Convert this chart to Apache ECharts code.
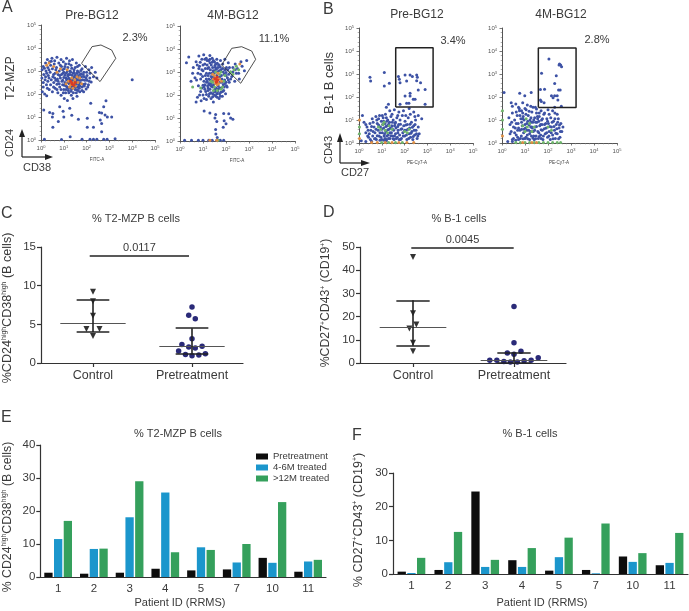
<!DOCTYPE html>
<html><head><meta charset="utf-8">
<style>html,body{margin:0;padding:0;background:#fff}#c{width:689px;height:611px}</style>
<script src="https://cdn.jsdelivr.net/npm/echarts@6/dist/echarts.min.js"></script>
</head><body><div id="c"></div>
<script>
// Flow panels: values are decades (log10).
const a1Blue=[[.05,3.05],[.1,3.2],[.12,2.85],[.2,3.35],[.22,3.0],[.28,3.5],[.3,3.15],[.32,2.8],[.38,3.4],[.4,2.95],[.42,3.25],[.48,3.55],[.5,3.1],[.52,2.75],[.58,3.3],[.6,3.45],[.62,2.9],[.68,3.15],[.7,3.6],[.72,2.65],[.78,3.35],[.8,3.0],[.82,2.8],[.88,3.5],[.9,3.2],[.92,2.55],[.98,3.4],[1,2.95],[1.02,3.1],[1.08,3.3],[1.1,2.7],[1.12,3.55],[1.18,3.15],[1.2,2.85],[1.25,3.45],[1.28,3.0],[1.32,3.25],[1.38,3.5],[1.42,2.9],[1.5,3.15],[1.55,3.35],[1.6,3.0],[1.68,3.25],[1.72,2.85],[1.8,3.1],[1.88,2.95],[1.95,3.2],[2.02,2.8],[2.1,3.05],[2.15,2.9],[2.22,3.15],[2.3,2.75],[2.38,2.95],[2.45,2.7],[.04,2.7],[.1,2.5],[.18,2.62],[.24,2.4],[.3,2.55],[.36,2.2],[.42,2.4],[.5,2.1],[.56,2.5],[.62,2.25],[.7,2.42],[.74,2.05],[.82,2.3],[.88,1.95],[.06,2.1],[.16,2.0],[.25,1.92],[.95,2.4],[1,2.2],[1.05,2.5],[1.08,2.05],[1.12,2.62],[1.15,2.3],[1.18,2.78],[1.2,2.15],[1.24,2.45],[1.28,2.65],[1.3,2.25],[1.33,1.95],[1.36,2.82],[1.4,2.4],[1.42,2.05],[1.45,2.58],[1.48,2.75],[1.5,2.2],[1.53,2.42],[1.56,2.9],[1.58,1.9],[1.6,2.6],[1.63,2.3],[1.66,2.72],[1.7,2.1],[1.72,2.48],[1.76,2.88],[1.8,2.3],[1.83,2.62],[1.87,2.1],[1.9,2.75],[1.94,2.45],[1.98,2.22],[2.02,2.6],[2.08,2.4],[2.14,2.7],[2.2,2.52],[1.0,2.72],[.96,2.9],[1.1,2.9],[1.3,2.95],[1.44,2.95],[1.62,2.8],[.95,2.6],[1.02,1.8],[1.16,1.72],[1.4,1.8],[1.26,2.85],[1.35,2.55],[1.55,2.5],[1.65,2.4],[1.45,2.3],[1.35,2.35],[1.75,2.6],[.12,1.3],[.38,1.2],[.52,1.15],[.5,1.0],[.82,1.45],[.97,1.25],[1.26,1.38],[.76,.8],[.52,.55],[1.0,1.0],[1.35,1.08],[1.64,.9],[2.03,.95],[2.18,1.6],[2.56,1.2],[2.66,1.17],[2.81,1.09],[2.91,1.0],[3.1,1.0],[2.75,1.45],[2.85,1.71],[2.6,.87],[2.66,.72],[2.03,.55],[2.3,.55],[2.66,.36],[4.0,2.62],[.15,.03],[1.28,.14],[1.8,.03],[2.15,.03],[2.3,.03],[2.45,.03],[2.75,.03],[2.9,.03],[3.25,.05],[.9,.02]];
const a1Fill=[[.15,3.12],[.25,2.9],[.35,3.05],[.45,3.42],[.55,2.85],[.65,3.05],[.75,2.85],[.85,3.25],[.95,3.05],[1.05,3.2],[1.15,2.98],[1.22,3.32],[1.35,3.12],[1.45,3.05],[1.6,3.2],[1.75,3.02],[1.85,2.85],[2.0,2.95],[.45,2.62],[.6,2.7],[.75,2.55],[.85,2.7],[.9,2.85],[.65,2.6],[.8,2.45],[.88,2.2],[.98,2.05],[1.1,2.2],[1.22,2.05],[1.32,2.12],[1.55,2.05],[1.68,2.25],[1.8,2.15],[1.9,2.35],[2.05,2.3],[2.12,2.55],[1.92,2.6],[1.84,2.42],[1.7,2.35],[1.58,2.18],[1.47,2.45],[1.38,2.62],[1.26,2.55],[1.18,2.5],[1.1,2.35],[1.02,2.38],[1.42,2.72],[1.55,2.65],[1.68,2.6],[1.22,2.68],[1.05,2.82],[1.15,2.62],[1.5,2.82],[1.65,2.95],[1.35,2.22],[1.2,2.25],[1.52,2.3],[1.62,2.15],[1.78,2.75],[1.98,2.7],[.2,2.75],[.35,2.7],[.28,2.25],[.55,2.3],[.7,2.2],[.1,2.3]];
const a1Orange=[[.25,3.25],[.55,3.2],[.85,3.1],[1.15,3.05],[.35,3.35],[.7,2.95],[1.2,2.55],[1.3,2.4],[1.35,2.7],[1.42,2.5],[1.48,2.62],[1.52,2.35],[1.58,2.75],[1.62,2.5],[1.25,2.3],[1.4,2.25],[1.7,2.7],[1.1,2.45],[1.78,2.45]];
const a1Red=[[1.3,2.55],[1.38,2.42],[1.44,2.38],[1.35,2.48],[1.5,2.5]];
const a2Blue=[[.28,3.4],[.38,3.65],[.48,2.6],[.58,3.2],[.7,3.45],[.78,2.95],[.82,3.7],[.85,3.25],[.9,2.7],[.95,3.55],[1,3.05],[1.03,3.75],[1.05,2.35],[1.08,3.35],[1.1,2.85],[1.14,3.6],[1.16,2.55],[1.2,3.15],[1.22,2.2],[1.25,3.5],[1.28,2.95],[1.3,3.72],[1.32,2.65],[1.36,3.3],[1.38,2.4],[1.4,3.6],[1.42,2.05],[1.44,3.05],[1.46,2.8],[1.5,3.45],[1.52,2.25],[1.54,3.2],[1.56,1.95],[1.6,3.55],[1.62,3.0],[1.64,2.15],[1.68,3.3],[1.7,1.85],[1.72,2.05],[1.76,3.5],[1.78,3.1],[1.8,2.3],[1.84,1.95],[1.86,3.35],[1.9,2.2],[1.92,2.9],[1.95,3.55],[1.98,2.05],[2.02,3.2],[2.05,2.35],[2.1,3.4],[2.14,2.55],[2.2,3.0],[2.25,2.8],[2.3,3.2],[2.38,2.6],[2.45,2.95],[2.5,3.15],[2.58,2.7],[2.65,3.45],[2.7,3.25],[2.8,3.05],[2.9,3.5],[1.3,3.4],[1.18,3.3],[.95,3.1],[1.04,2.6],[1.12,2.15],[1.28,2.45],[1.34,2.1],[1.46,2.45],[1.5,2.0],[1.58,2.3],[1.6,2.05],[1.66,2.4],[1.74,2.55],[1.82,2.7],[1.88,2.45],[1.94,2.65],[2.0,2.55],[2.06,2.75],[2.12,2.9],[1.42,3.2],[1.55,3.35],[1.7,3.3],[1.85,3.15],[1.48,2.95],[1.6,2.85],[1.35,2.8],[1.25,2.7],[1.2,2.4],[.55,2.95],[.65,2.75],[.95,2.3],[.9,2.15],[.85,2.0],[.76,1.9],[.7,1.7],[.92,1.75],[1.05,1.85],[1.15,1.8],[1.25,1.95],[1.35,1.85],[1.45,1.7],[1.05,1.3],[1.3,1.22],[1.55,1.15],[1.9,1.2],[2.12,1.18],[1.52,1.0],[1.6,.85],[1.92,.88],[2.2,1.0],[2.3,.95],[2.0,.75],[1.88,.6],[1.56,.3],[1.55,.5],[1.62,.15],[.2,.03],[.5,.03],[.8,.03],[1.0,.03],[1.25,.03],[1.4,.03],[1.6,.03],[1.75,.03],[1.9,.03]];
const a2Fill=[[1.0,3.3],[1.1,3.15],[1.15,2.95],[1.22,2.85],[1.25,3.2],[1.32,3.1],[1.38,2.95],[1.4,3.42],[1.45,2.62],[1.5,3.05],[1.52,3.28],[1.58,3.12],[1.65,3.2],[1.7,3.05],[1.75,3.22],[1.8,2.85],[1.88,3.0],[1.95,3.1],[2.0,2.98],[2.08,3.1],[2.15,3.2],[2.4,3.35],[1.08,2.45],[1.14,2.7],[1.18,2.6],[1.3,2.25],[1.36,2.38],[1.42,2.35],[1.48,2.15],[1.54,2.15],[1.66,2.25],[1.72,2.32],[1.78,2.12],[1.85,2.15],[1.92,2.35],[1.95,2.5],[2.02,2.4],[1.75,1.95],[1.62,1.9],[1.42,1.92],[1.28,2.05],[1.15,2.02],[1.0,2.0],[1.0,2.42],[1.08,2.25],[.9,2.9],[.82,3.15],[.75,3.3],[.88,3.42],[1.18,3.5],[1.08,3.55],[.98,2.8],[.72,2.65],[.8,2.4],[1.26,2.5],[1.35,2.5],[1.22,2.3],[1.4,2.75],[1.72,2.78],[1.82,2.55],[2.0,2.85],[2.1,2.65],[2.2,2.7],[2.3,3.0],[2.4,3.1],[2.55,2.95],[1.62,3.38],[1.45,3.5],[1.3,3.55]];
const a2Green=[[1.42,2.55],[1.5,2.35],[1.62,2.2],[1.85,2.35],[1.9,2.6],[1.95,2.85],[1.35,2.6],[1.55,3.0],[1.78,3.0],[2.2,3.0],[2.35,3.1],[2.45,3.25],[2.55,3.1],[2.3,2.9],[.9,2.3],[.55,2.35],[1.65,.03],[1.45,2.2],[1.78,2.25],[1.72,2.9]];
const a2Orange=[[1.45,2.7],[1.5,2.85],[1.55,2.5],[1.6,2.75],[1.68,2.5],[1.72,2.7],[1.52,2.62],[1.65,2.95],[1.42,2.9],[1.8,2.6],[2.6,3.35],[1.62,2.45],[1.6,.03],[1.3,.03]];
const a2Red=[[1.55,2.7],[1.6,2.6],[1.65,2.65],[1.58,2.55],[1.62,2.78],[1.52,2.72]];
const b1Blue=[[.48,2.86],[.51,2.7],[1.11,3.06],[1.33,2.6],[1.11,2.48],[1.73,2.89],[1.77,2.77],[1.8,2.62],[2.02,2.96],[2.24,2.96],[2.09,2.7],[2.34,2.89],[2.53,2.96],[2.56,2.86],[2.53,2.71],[2.7,2.62],[2.6,2.3],[2.9,2.33],[2.24,2.16],[2.02,2.04],[2.24,2.04],[2.38,1.9],[2.46,1.9],[2.09,1.73],[2.19,1.73],[2.9,1.68],[1.29,1.68],[1.8,1.68],[1.2,1.55],[1.35,1.4],[1.55,1.45],[1.75,1.35],[1.95,1.4],[2.2,1.5],[2.4,1.35],[2.6,1.2],[2.75,1.05],[.15,1.2],[.22,.9],[.35,.7],[.3,.45],[.42,.25],[.48,.85],[.52,.55],[.58,1.05],[.6,.3],[.66,.7],[.7,.45],[.74,1.15],[.76,.15],[.8,.85],[.84,.55],[.88,.3],[.9,1.2],[.94,.7],[.98,.95],[1.0,.15],[1.02,.45],[1.06,1.1],[1.08,.65],[1.1,.3],[1.14,.85],[1.16,1.25],[1.18,.5],[1.2,.15],[1.24,.75],[1.26,1.0],[1.28,.35],[1.32,.6],[1.34,.9],[1.36,.2],[1.4,1.15],[1.42,.45],[1.44,.75],[1.48,.3],[1.5,1.0],[1.52,.55],[1.54,.15],[1.58,.85],[1.6,.4],[1.62,.65],[1.66,1.1],[1.68,.25],[1.72,.55],[1.74,.8],[1.78,.35],[1.8,1.0],[1.84,.6],[1.86,.2],[1.9,1.2],[1.92,.45],[1.96,.75],[2.0,.3],[2.02,.95],[2.06,.55],[2.1,.15],[2.12,.8],[2.16,1.1],[2.2,.4],[2.22,.65],[2.26,.25],[2.3,.9],[2.32,.5],[2.36,.15],[2.4,.75],[2.44,.35],[2.48,1.0],[2.5,.55],[2.55,.2],[2.6,.7],[2.64,.4],[.62,.9],[.72,.2],[.86,1.05],[1.0,.6],[1.12,.4],[1.22,.95],[1.3,.2],[1.38,.65],[1.46,.9],[1.56,.3],[1.7,.45],[1.82,.15],[.1,.1],[.3,.06],[.55,.08],[1.2,.1]];
const b1Fill=[[.4,.55],[.45,.4],[.55,.72],[.62,.5],[.68,.18],[.75,.6],[.8,.32],[.86,.78],[.92,.45],[.96,.25],[1.04,.8],[1.08,.95],[1.1,.12],[1.18,.72],[1.22,.3],[1.26,.58],[1.3,.82],[1.36,.45],[1.4,.32],[1.46,.62],[1.5,.18],[1.56,.75],[1.6,.9],[1.64,.2],[1.7,.72],[1.76,.15],[1.82,.82],[1.88,.62],[1.94,.3],[2.0,.55],[2.05,.78],[2.08,.35],[2.14,.6],[2.18,.2],[2.24,.82],[2.28,.42],[2.34,.68],[2.38,.28],[2.42,.55],[2.46,.8],[2.52,.4],[2.58,.3],[.3,.8],[.38,.3],[.5,.15],[.92,.12],[1.14,.2],[.78,1.0],[1.02,1.2],[1.2,1.1],[1.45,1.25],[1.7,1.2],[2.05,1.2],[2.25,1.25],[2.45,1.15]];
const b1Green=[[.95,.6],[1.05,.8],[1.15,.55],[1.25,.45],[1.32,.75],[.85,.7],[1.45,.6],[1.1,.9],[2.0,.5],[2.12,.45],[2.2,.6],[.02,.7],[.02,.4],[1.0,.02],[1.3,.02],[1.6,.02],[1.9,.02]];
const b1Orange=[[.02,1.0],[.02,.2],[.55,.02],[.8,.02],[1.15,.02],[1.45,.02],[1.75,.02],[2.1,.02],[2.4,.02]];
const b2Blue=[[2.04,3.65],[2.5,3.43],[2.55,3.39],[2.59,3.32],[2.48,3.39],[1.72,3.03],[2.36,2.92],[2.29,2.59],[1.67,2.33],[1.85,2.34],[2.46,2.3],[2.53,2.3],[2.15,2.05],[2.29,2.05],[2.4,2.05],[2.22,1.97],[2.43,1.87],[1.67,1.87],[1.71,1.8],[1.83,1.75],[2.58,1.6],[2.29,1.55],[.09,2.2],[.77,2.16],[.99,2.05],[1.27,2.2],[.4,1.75],[.45,1.6],[.6,1.7],[.75,1.5],[.9,1.75],[1.1,1.65],[1.25,1.6],[1.45,1.55],[1.7,1.4],[2.0,1.45],[2.2,1.4],[2.4,1.25],[.3,1.1],[.35,.8],[.4,.5],[.45,1.3],[.5,.2],[.55,1.0],[.58,.65],[.62,.35],[.66,1.2],[.7,.85],[.72,.15],[.76,1.4],[.78,.55],[.82,1.05],[.84,.3],[.88,.75],[.9,1.3],[.94,.45],[.96,1.0],[1.0,.2],[1.02,.65],[1.05,1.45],[1.08,.85],[1.1,.35],[1.14,1.2],[1.16,.55],[1.2,.15],[1.22,1.0],[1.25,.7],[1.28,.3],[1.3,1.35],[1.34,.9],[1.36,.5],[1.4,.15],[1.42,1.1],[1.44,.7],[1.48,.3],[1.5,1.3],[1.52,.9],[1.56,.5],[1.58,.2],[1.62,1.15],[1.64,.75],[1.68,.35],[1.72,1.0],[1.75,.55],[1.78,.15],[1.82,1.25],[1.85,.8],[1.88,.4],[1.92,.65],[1.95,1.05],[1.98,.25],[2.02,.85],[2.05,.5],[2.1,.15],[2.12,1.1],[2.15,.7],[2.2,.35],[2.24,.95],[2.28,.55],[2.32,.2],[2.36,.8],[2.4,.4],[2.45,1.05],[2.48,.65],[2.52,.25],[2.56,.85],[2.6,.5],[2.65,.7],[.85,.9],[.95,.6],[1.12,.95],[1.2,.4],[1.32,.65],[1.46,.9],[1.6,.45],[1.74,.8],[.68,.55],[.8,.2],[.92,1.15],[1.04,.25],[1.26,1.1],[1.38,.3],[1.55,1.05],[1.7,.2],[.25,.06],[.45,.06]];
const b2Fill=[[.42,.9],[.5,.7],[.55,.45],[.62,.85],[.68,.25],[.72,.65],[.78,1.2],[.85,.6],[.9,1.05],[.92,.18],[1.0,.8],[1.04,1.25],[1.08,.55],[1.12,.18],[1.18,.78],[1.24,.5],[1.26,.9],[1.3,.7],[1.34,.22],[1.38,1.0],[1.42,.55],[1.46,.18],[1.5,.72],[1.54,1.15],[1.6,.95],[1.62,.28],[1.68,.8],[1.7,.58],[1.76,1.05],[1.8,.3],[1.84,.62],[1.9,.85],[1.94,.45],[1.98,.95],[2.04,.3],[2.08,.72],[2.14,.45],[2.18,.9],[2.22,.18],[2.26,.72],[2.3,1.05],[2.34,.42],[2.38,.62],[2.42,.9],[2.46,.18],[2.5,.78],[2.54,.5],[.62,1.35],[.72,1.55],[.85,1.4],[1.0,1.5],[1.18,1.38],[1.35,1.55],[1.5,1.48],[1.62,1.3],[1.85,1.3],[2.05,1.25],[2.3,1.3],[.35,.4],[.45,.15],[.6,.12]];
const b2Green=[[.9,.75],[1.0,.5],[1.1,.7],[1.2,.85],[1.3,.5],[1.4,.7],[1.05,1.05],[2.0,.7],[2.15,.55],[.02,1.4],[.02,1.0],[.02,.6],[.6,.02],[.8,.02],[1.0,.02],[1.2,.02],[1.4,.02],[1.6,.02],[1.8,.02],[2.0,.02],[2.2,.02],[2.4,.02],[2.55,.02]];
const b2Orange=[[.02,.3],[.9,.02],[1.3,.02],[1.5,.02]];
const a1Gate=[[1.78,3.33],[2.24,4.06],[2.63,4.13],[3.1,3.91],[3.28,3.55],[2.59,2.54],[1.78,3.33]];
const a2Gate=[[1.81,3.3],[2.25,4.03],[2.68,4.1],[3.12,3.91],[3.29,3.55],[2.64,2.51],[1.81,3.3]];
const b1Gate=[[1.61,1.57],[1.61,4.14],[3.25,4.14],[3.25,1.57],[1.61,1.57]];
const b2Gate=[[1.58,1.54],[1.58,4.13],[3.22,4.13],[3.22,1.54],[1.58,1.54]];
// Panels C, D
const groupLabels=['Control','Pretreatment'];
const cControl=[[1,9.2],[1,8.0],[1,6.1],[.934,4.4],[1.066,4.4],[1,3.5]];
const cPre=[[2,7.24],[1.967,6.16],[2.033,5.73],[2,3.15],[1.898,2.4],[1.967,2.07],[2.033,1.94],[2.102,2.15],[1.865,1.55],[1.934,1.1],[2,.95],[2.069,1.03],[2.135,1.2]];
const cStats=[[5.15,8.2,4.0],[2.2,4.5,1.2]];
const dControl=[[1,45.7],[1,21.4],[1.033,16.6],[.964,14.9],[1,8.7],[1,5.05]];
const dPre=[[2,24.3],[2,8.7],[1.934,4.3],[2.069,5.05],[2,3.8],[2.24,2.3],[1.76,1.15],[1.83,1.15],[1.9,.6],[1.964,.4],[2.033,.4],[2.1,1],[2.17,1.15]];
const dStats=[[15.5,27,7.4],[1.0,4.6,.3]];
// Panels E, F
const patients=['1','2','3','4','5','7','10','11'];
const barNames=['Pretreatment','4-6M treated','>12M treated'];
const ePre=[1.3,1.0,1.3,2.5,2.0,2.3,5.8,1.6];
const eMid=[11.5,8.5,18.1,25.6,9.0,4.4,4.3,4.7];
const eLate=[17,8.6,29,7.5,8.2,10,22.7,5.2];
const fPre=[.7,1.2,24.5,4.1,1.0,1.2,5.2,2.6];
const fMid=[.3,3.5,2.1,2.1,5.0,.2,3.6,3.3];
const fLate=[4.8,12.5,4.2,7.7,10.8,15,6.2,12.2];

const FONT='"Liberation Sans",Arial,sans-serif', INK='#3a3a3a';
const BLUE='#3d52a5',GREEN='#6fb56c',ORANGE='#de8f45',RED='#dc3b22';
const grids=[[41,25,114,115],[180,26,115,115],[359,28,114,115],[502,28,115,115],[37,247,206,116],[360,247,206,116],[34,445,292,132],[393,473,295,101]]
  .map(g=>({left:g[0],top:g[1],width:g[2],height:g[3],containLabel:false}));
function flowAxis(i){return{gridIndex:i,type:'value',min:0,max:5,interval:1,splitLine:{show:false},
  axisLine:{onZero:false,lineStyle:{color:'#555',width:1}},axisTick:{length:2.5,lineStyle:{color:'#555',width:.8}},
  minorTick:{show:true,splitNumber:5,length:1.3,lineStyle:{color:'#777',width:.6}},
  axisLabel:{fontSize:6,color:'#555',fontFamily:FONT,margin:5,formatter:v=>'10{s|'+v+'}',rich:{s:{fontSize:4,verticalAlign:'top',lineHeight:6,fontFamily:FONT,color:'#555'}}}}}
const xAxis=[0,1,2,3].map(flowAxis), yAxis=[0,1,2,3].map(flowAxis);
function grpX(i){return{gridIndex:i,type:'value',min:.475,max:2.515,splitLine:{show:false},
  axisLine:{onZero:false,lineStyle:{color:'#333',width:1.2}},
  axisTick:{customValues:[1,2],length:4,lineStyle:{color:'#333',width:1.2}},
  axisLabel:{customValues:[1,2],fontSize:12.5,color:INK,fontFamily:FONT,margin:6,formatter:v=>groupLabels[Math.round(v)-1]}}}
function valY(i,max,iv,name,fs,gap,pad){return{gridIndex:i,type:'value',min:0,max:max,interval:iv,splitLine:{show:false},
  axisLine:{onZero:false,show:true,lineStyle:{color:'#333',width:1.2}},axisTick:{show:true,length:4,lineStyle:{color:'#333',width:1.2}},
  axisLabel:{fontSize:11.5,color:INK,fontFamily:FONT,margin:5},
  name:name,nameLocation:'middle',nameGap:gap,nameTextStyle:{fontSize:fs,color:INK,fontFamily:FONT,padding:pad,rich:{s:{fontSize:fs*.55,verticalAlign:'top',lineHeight:fs,fontFamily:FONT,color:INK}}}}}
function catX(i){return{gridIndex:i,type:'category',data:patients,splitLine:{show:false},
  axisLine:{onZero:false,lineStyle:{color:'#333',width:1.2}},axisTick:{alignWithLabel:true,length:3,lineStyle:{color:'#333'}},
  axisLabel:{fontSize:11.5,color:INK,fontFamily:FONT,margin:6}}}
xAxis.push(grpX(4),grpX(5),catX(6),catX(7));
yAxis.push(valY(4,15,5,'%CD24{s|high}CD38{s|high} (B cells)',12.6,27,[0,6,0,0]),
  valY(5,50,10,'%CD27{s|+}CD43{s|+} (CD19{s|+})',12.3,28,[0,0,0,4]),
  valY(6,40,10,'% CD24{s|high}CD38{s|high} (B cells)',12.3,27,[0,12,0,0]),
  valY(7,30,10,'% CD27{s|+}CD43{s|+} (CD19{s|+})',12.5,28,[0,0,0,7]));

function pts(i,data,color,size){return{type:'scatter',xAxisIndex:i,yAxisIndex:i,data:data,symbolSize:size||3,silent:true,itemStyle:{color:color,opacity:1}}}
function gate(i,data,w){return{type:'line',xAxisIndex:i,yAxisIndex:i,data:data,showSymbol:false,silent:true,lineStyle:{color:'#222',width:w},z:5}}
function seg(x1,y1,x2,y2,color,w){return[{coord:[x1,y1],lineStyle:{color:color,width:w,type:'solid'}},{coord:[x2,y2]}]}
function stat(k,s,hw1,hw2){return[
  seg(k-hw1,s[0],k+hw1,s[0],'#555',1),
  seg(k-hw2,s[1],k+hw2,s[1],'#222',1.6),
  seg(k-hw2,s[2],k+hw2,s[2],'#222',1.6),
  seg(k,s[1],k,s[2],'#222',1.6)]}
function withStats(i,data,sym,color,size,k,s,extra){const o=pts(i,data,color,size);
  o.symbol=sym; if(sym==='triangle')o.symbolRotate=180;
  const d=stat(k,s,.33,.165); if(extra)d.push(extra);
  o.markLine={silent:true,symbol:'none',animation:false,label:{show:false},lineStyle:{type:'solid'},data:d};return o}
const sigLabel=t=>({show:true,position:'middle',formatter:t,fontSize:11,color:INK,fontFamily:FONT,distance:2});
const cSig=seg(.967,13.9,1.97,13.9,'#222',1.6); cSig[0].label=sigLabel('0.0117');
const dSig=seg(.983,49.7,1.997,49.7,'#222',1.6); dSig[0].label=sigLabel('0.0045');
function bars(i,name,data,color){return{type:'bar',name:name,xAxisIndex:i,yAxisIndex:i,data:data,barWidth:8.3,barGap:'17%',itemStyle:{color:color},silent:true}}
const COL=['#0d0d0d','#1b96cc','#35a05c'];
const series=[
 pts(0,a1Blue,BLUE),pts(0,a1Fill,BLUE),pts(0,a1Orange,ORANGE),pts(0,a1Red,RED),gate(0,a1Gate,.8),
 pts(1,a2Blue,BLUE),pts(1,a2Fill,BLUE),pts(1,a2Green,GREEN),pts(1,a2Orange,ORANGE),pts(1,a2Red,RED),gate(1,a2Gate,.8),
 pts(2,b1Blue,BLUE),pts(2,b1Fill,BLUE),pts(2,b1Green,GREEN),pts(2,b1Orange,ORANGE),gate(2,b1Gate,1.5),
 pts(3,b2Blue,BLUE),pts(3,b2Fill,BLUE),pts(3,b2Green,GREEN),pts(3,b2Orange,ORANGE),gate(3,b2Gate,1.5),
 withStats(4,cControl,'triangle','#333',6,1,cStats[0],cSig),
 withStats(4,cPre,'circle','#2a2a78',5.5,2,cStats[1]),
 withStats(5,dControl,'triangle','#333',6,1,dStats[0],dSig),
 withStats(5,dPre,'circle','#2a2a78',5.5,2,dStats[1]),
 bars(6,barNames[0],ePre,COL[0]),bars(6,barNames[1],eMid,COL[1]),bars(6,barNames[2],eLate,COL[2]),
 bars(7,barNames[0],fPre,COL[0]),bars(7,barNames[1],fMid,COL[1]),bars(7,barNames[2],fLate,COL[2])
];
function txt(text,x,y,size,opt){opt=opt||{};return{type:'text',x:x,y:y,rotation:opt.rot?Math.PI/2:0,silent:true,
  style:{text:text,fontSize:size,fontFamily:FONT,fill:opt.fill||INK,align:opt.align||'center',verticalAlign:'middle'}}}
function ln(x1,y1,x2,y2){return{type:'line',silent:true,shape:{x1,y1,x2,y2},style:{stroke:'#222',lineWidth:1.2}}}
function tri(points){return{type:'polygon',silent:true,shape:{points},style:{fill:'#222'}}}
const graphic=[
 txt('A',2,8,16,{align:'left'}),txt('B',323,10,16,{align:'left'}),txt('C',1,214,16,{align:'left'}),txt('D',323,213,16,{align:'left'}),txt('E',1,418,16,{align:'left'}),txt('F',352,436,16,{align:'left'}),
 txt('Pre-BG12',92,16,12),txt('4M-BG12',233,16,12),txt('Pre-BG12',417,15,12),txt('4M-BG12',561,15,12),
 txt('2.3%',135,38,11),txt('11.1%',274,39,11),txt('3.4%',453,41,11),txt('2.8%',597,40,11),
 txt('FITC-A',97,160,4.5),txt('FITC-A',237,161,4.5),txt('PE-Cy7-A',417,163,4.5),txt('PE-Cy7-A',559,163,4.5),
 txt('T2-MZP',11,78,12,{rot:1}),txt('CD24',10,143,11,{rot:1}),txt('CD38',37,168,11),
 txt('B-1 B cells',329,83,13,{rot:1}),txt('CD43',329,150,11,{rot:1}),txt('CD27',355,173,11),
 ln(22,157,22,134),ln(22,157,47,157),tri([[22,129],[19,137],[25,137]]),tri([[53,157],[45,154],[45,160]]),
 ln(340,163,340,139),ln(340,163,364,163),tri([[340,133],[337,142],[343,142]]),tri([[370,163],[361,160],[361,166]]),
 txt('% T2-MZP B cells',136,219,11),txt('% B-1 cells',459,219,11),txt('% T2-MZP B cells',178,434,11),txt('% B-1 cells',530,434,11),
 txt('Patient ID (RRMS)',180,603,11),txt('Patient ID (RRMS)',542,603,11)
];
const chart=echarts.init(document.getElementById('c'),null,{renderer:'canvas'});
chart.setOption({animation:false,backgroundColor:'#fff',grid:grids,xAxis,yAxis,series,graphic,
 legend:{data:barNames,orient:'vertical',left:256,top:451.5,padding:0,itemWidth:12,itemHeight:6,itemGap:1,selectedMode:false,
  icon:'rect',textStyle:{fontSize:9.5,color:INK,fontFamily:FONT}}});
</script></body></html>
